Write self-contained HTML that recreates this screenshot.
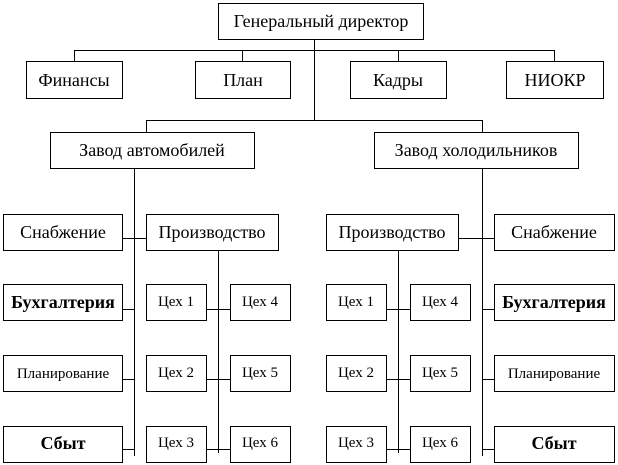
<!DOCTYPE html>
<html><head><meta charset="utf-8"><style>
html,body{margin:0;padding:0;background:#fff;}
svg{display:block;}
svg text{font-family:"Liberation Serif","Times New Roman","DejaVu Serif",serif;fill:#000;text-anchor:middle;}
</style></head><body>
<svg width="618" height="465" viewBox="0 0 618 465" xmlns="http://www.w3.org/2000/svg" font-family="Liberation Serif, Times New Roman, DejaVu Serif, serif">
<g stroke="#000" stroke-width="1" fill="none" shape-rendering="crispEdges">
<line x1="314.5" y1="39" x2="314.5" y2="120"/>
<line x1="74" y1="50.5" x2="554" y2="50.5"/>
<line x1="74.5" y1="50" x2="74.5" y2="61"/>
<line x1="242.5" y1="50" x2="242.5" y2="61"/>
<line x1="398.5" y1="50" x2="398.5" y2="61"/>
<line x1="554.5" y1="50" x2="554.5" y2="61"/>
<line x1="146" y1="120.5" x2="482" y2="120.5"/>
<line x1="146.5" y1="120" x2="146.5" y2="132"/>
<line x1="482.5" y1="120" x2="482.5" y2="132"/>
<line x1="134.5" y1="168" x2="134.5" y2="456"/>
<line x1="122" y1="238.5" x2="146" y2="238.5"/>
<line x1="122" y1="309.5" x2="134" y2="309.5"/>
<line x1="122" y1="379.5" x2="134" y2="379.5"/>
<line x1="122" y1="449.5" x2="134" y2="449.5"/>
<line x1="218.5" y1="250" x2="218.5" y2="453"/>
<line x1="206" y1="309.5" x2="230" y2="309.5"/>
<line x1="206" y1="379.5" x2="230" y2="379.5"/>
<line x1="206" y1="449.5" x2="230" y2="449.5"/>
<line x1="482.5" y1="168" x2="482.5" y2="456"/>
<line x1="458" y1="238.5" x2="494" y2="238.5"/>
<line x1="482" y1="309.5" x2="494" y2="309.5"/>
<line x1="482" y1="379.5" x2="494" y2="379.5"/>
<line x1="482" y1="449.5" x2="494" y2="449.5"/>
<line x1="398.5" y1="250" x2="398.5" y2="453"/>
<line x1="386" y1="309.5" x2="410" y2="309.5"/>
<line x1="386" y1="379.5" x2="410" y2="379.5"/>
<line x1="386" y1="449.5" x2="410" y2="449.5"/>
<rect x="218.5" y="3.5" width="205" height="36"/>
<rect x="26.5" y="61.5" width="96" height="37"/>
<rect x="195.5" y="61.5" width="95" height="37"/>
<rect x="350.5" y="61.5" width="96" height="37"/>
<rect x="506.5" y="61.5" width="97" height="37"/>
<rect x="50.5" y="132.5" width="204" height="36"/>
<rect x="374.5" y="132.5" width="204" height="36"/>
<rect x="3.5" y="214.5" width="119" height="36"/>
<rect x="146.5" y="214.5" width="132" height="36"/>
<rect x="3.5" y="284.5" width="119" height="36"/>
<rect x="3.5" y="355.5" width="119" height="36"/>
<rect x="3.5" y="426.5" width="119" height="36"/>
<rect x="146.5" y="284.5" width="60" height="36"/>
<rect x="146.5" y="355.5" width="60" height="36"/>
<rect x="146.5" y="426.5" width="60" height="36"/>
<rect x="230.5" y="284.5" width="60" height="36"/>
<rect x="230.5" y="355.5" width="60" height="36"/>
<rect x="230.5" y="426.5" width="60" height="36"/>
<rect x="326.5" y="214.5" width="132" height="36"/>
<rect x="494.5" y="214.5" width="120" height="36"/>
<rect x="494.5" y="284.5" width="120" height="36"/>
<rect x="494.5" y="355.5" width="120" height="36"/>
<rect x="494.5" y="426.5" width="120" height="36"/>
<rect x="326.5" y="284.5" width="60" height="36"/>
<rect x="326.5" y="355.5" width="60" height="36"/>
<rect x="326.5" y="426.5" width="60" height="36"/>
<rect x="410.5" y="284.5" width="60" height="36"/>
<rect x="410.5" y="355.5" width="60" height="36"/>
<rect x="410.5" y="426.5" width="60" height="36"/>
</g>
<g font-size="18">
<text x="321" y="27">Генеральный директор</text>
<text x="74" y="86">Финансы</text>
<text x="243" y="86">План</text>
<text x="398" y="86">Кадры</text>
<text x="555" y="86">НИОКР</text>
<text x="152" y="156">Завод автомобилей</text>
<text x="476" y="156">Завод холодильников</text>
<text x="63" y="238">Снабжение</text>
<text x="212" y="238">Производство</text>
<text x="392" y="238">Производство</text>
<text x="554" y="238">Снабжение</text>
<text x="63" y="308" font-weight="bold">Бухгалтерия</text>
<text x="554" y="308" font-weight="bold">Бухгалтерия</text>
<text x="63" y="449" font-weight="bold">Сбыт</text>
<text x="554" y="449" font-weight="bold">Сбыт</text>
</g>
<g font-size="15">
<text x="63" y="378">Планирование</text>
<text x="554" y="378">Планирование</text>
<text x="176" y="306">Цех 1</text>
<text x="176" y="377">Цех 2</text>
<text x="176" y="447">Цех 3</text>
<text x="260" y="306">Цех 4</text>
<text x="260" y="377">Цех 5</text>
<text x="260" y="447">Цех 6</text>
<text x="356" y="306">Цех 1</text>
<text x="356" y="377">Цех 2</text>
<text x="356" y="447">Цех 3</text>
<text x="440" y="306">Цех 4</text>
<text x="440" y="377">Цех 5</text>
<text x="440" y="447">Цех 6</text>
</g>
</svg>
</body></html>
